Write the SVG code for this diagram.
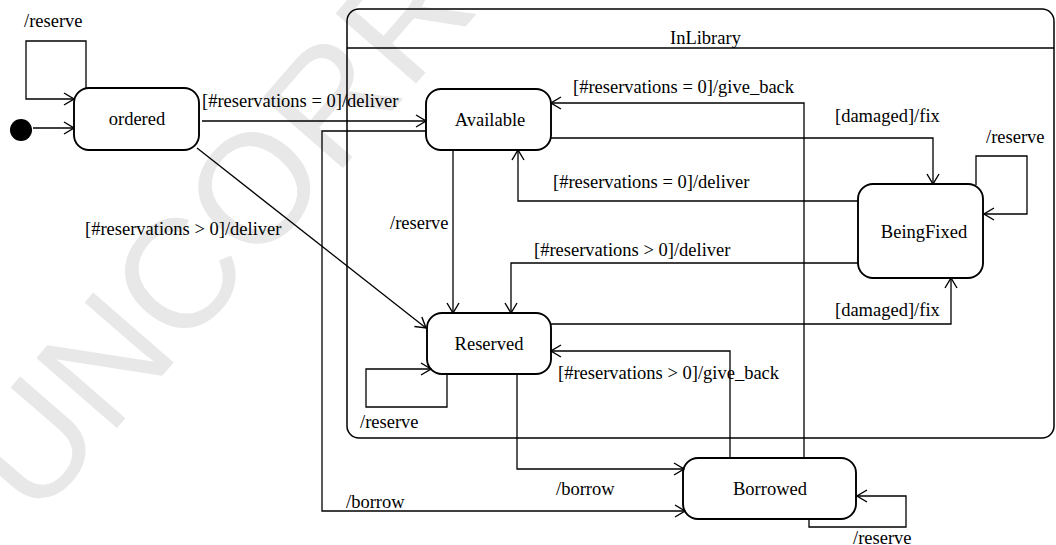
<svg xmlns="http://www.w3.org/2000/svg" width="1056" height="545" viewBox="0 0 1056 545">
<style>
.st{fill:#fff;stroke:#000;stroke-width:1.9}
.cn{fill:none;stroke:#000;stroke-width:1.3}
.lb{font-family:"Liberation Serif","Times New Roman",serif;font-size:18.5px;fill:#000}
.nm{font-family:"Liberation Serif","Times New Roman",serif;font-size:18.5px;fill:#000;text-anchor:middle}
.wm{font-family:"Liberation Sans",Arial,sans-serif;font-size:155px;fill:#e8e8e8}
</style>
<defs>
<marker id="arr" viewBox="0 0 12 14" refX="11" refY="7" markerWidth="12" markerHeight="14" markerUnits="userSpaceOnUse" orient="auto">
<path d="M1,1 L11,7 L1,13" fill="none" stroke="#000" stroke-width="1.4"/>
</marker>
</defs>
<rect width="1056" height="545" fill="#fff"/>
<text class="wm" transform="translate(35,522) rotate(-49)">UNCORRE</text>

<g id="InLibrary">
<rect x="347" y="9" width="707" height="429" rx="12" fill="none" stroke="#000" stroke-width="1.5"/>
<line x1="347" y1="48" x2="1054" y2="48" stroke="#000" stroke-width="1.5"/>
<text class="lb" x="670" y="44">InLibrary</text>
</g>

<g id="initial"><circle cx="21" cy="130" r="11" fill="#000"/></g>
<g id="ordered"><rect class="st" x="74" y="88" width="125" height="62" rx="15"/><text class="nm" x="137" y="125">ordered</text></g>
<g id="Available"><rect class="st" x="426" y="89" width="125" height="61" rx="15"/><text class="nm" x="490" y="126">Available</text></g>
<g id="Reserved"><rect class="st" x="427" y="313" width="124" height="61" rx="15"/><text class="nm" x="489" y="350">Reserved</text></g>
<g id="BeingFixed"><rect class="st" x="858" y="184" width="125" height="94" rx="15"/><text class="nm" x="924" y="238">BeingFixed</text></g>
<g id="Borrowed"><rect class="st" x="683" y="458" width="173" height="61" rx="15"/><text class="nm" x="770" y="495">Borrowed</text></g>

<g id="connectors">
<path class="cn" d="M33,128 H74" marker-end="url(#arr)"/>
<path class="cn" d="M86,89 V41 H26 V99 H74" marker-end="url(#arr)"/>
<path class="cn" d="M202,121 H426" marker-end="url(#arr)"/>
<path class="cn" d="M197,148 L426,328" marker-end="url(#arr)"/>
<path class="cn" d="M453,150 V313" marker-end="url(#arr)"/>
<path class="cn" d="M551,138 H933 V184" marker-end="url(#arr)"/>
<path class="cn" d="M858,201 H518 V150" marker-end="url(#arr)"/>
<path class="cn" d="M858,263 H511 V313" marker-end="url(#arr)"/>
<path class="cn" d="M551,324 H951 V278" marker-end="url(#arr)"/>
<path class="cn" d="M976,185 V156 H1027 V214 H984" marker-end="url(#arr)"/>
<path class="cn" d="M804,458 V103 H551" marker-end="url(#arr)"/>
<path class="cn" d="M730,458 V351 H551" marker-end="url(#arr)"/>
<path class="cn" d="M447,374 V407 H366 V369 H431" marker-end="url(#arr)"/>
<path class="cn" d="M517,374 V469 H684" marker-end="url(#arr)"/>
<path class="cn" d="M426,131 H322 V511 H685" marker-end="url(#arr)"/>
<path class="cn" d="M809,519 V527 H906 V496 H857" marker-end="url(#arr)"/>

<text class="lb" x="24" y="27">/reserve</text>
<text class="lb" x="202" y="107">[#reservations = 0]/deliver</text>
<text class="lb" x="85" y="235">[#reservations &gt; 0]/deliver</text>
<text class="lb" x="573" y="93">[#reservations = 0]/give_back</text>
<text class="lb" x="835" y="122">[damaged]/fix</text>
<text class="lb" x="986" y="143">/reserve</text>
<text class="lb" x="553" y="188">[#reservations = 0]/deliver</text>
<text class="lb" x="390" y="229">/reserve</text>
<text class="lb" x="534" y="256">[#reservations &gt; 0]/deliver</text>
<text class="lb" x="835" y="316">[damaged]/fix</text>
<text class="lb" x="558" y="379">[#reservations &gt; 0]/give_back</text>
<text class="lb" x="360" y="428">/reserve</text>
<text class="lb" x="556" y="495">/borrow</text>
<text class="lb" x="346" y="508">/borrow</text>
<text class="lb" x="853" y="544">/reserve</text>
</g>
</svg>
